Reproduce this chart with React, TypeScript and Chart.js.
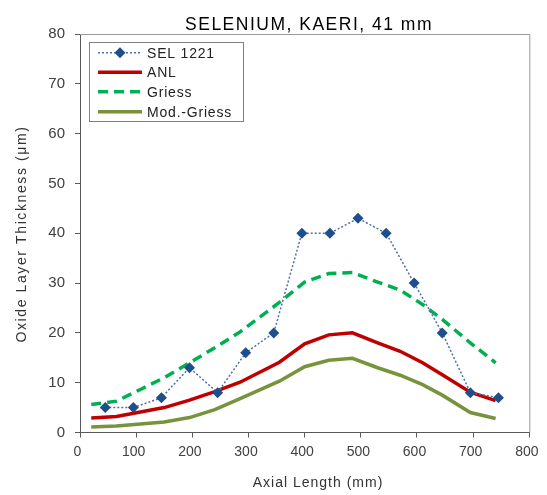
import { useEffect, useRef } from 'react';
import { Chart, registerables } from 'chart.js';

Chart.register(...registerables);

const TITLE = 'SELENIUM, KAERI, 41 mm';
const X_TITLE = 'Axial Length (mm)';
const Y_TITLE = 'Oxide Layer Thickness (\u03bcm)';

const SEL_X = [45, 95, 145, 195, 245, 295, 345, 395, 445, 495, 545, 595, 645, 695, 745];
const SEL_Y = [5, 5, 7, 13, 8, 16, 20, 40, 40, 43, 40, 30, 20, 8, 7];

const CALC_X = [20, 65, 150, 195, 240, 285, 355, 400, 443, 485, 530, 570, 610, 645, 695, 740];
const ANL_Y = [2.9, 3.2, 5.0, 6.5, 8.2, 10.1, 14.1, 17.8, 19.6, 20.0, 18.0, 16.3, 14.0, 11.6, 8.1, 6.4];
const GRIESS_Y = [5.6, 6.3, 11.0, 14.0, 17.0, 20.2, 26.1, 30.2, 31.9, 32.1, 30.2, 28.6, 25.7, 22.7, 18.0, 14.0];
const MOD_GRIESS_Y = [1.1, 1.3, 2.1, 3.0, 4.6, 6.8, 10.3, 13.2, 14.5, 14.9, 13.0, 11.5, 9.6, 7.5, 4.0, 2.8];

const LABELS = ['SEL 1221', 'ANL', 'Griess', 'Mod.-Griess'];

const FONT = '"Liberation Sans", "DejaVu Sans", sans-serif';

const toPts = (xs: number[], ys: number[]) => xs.map((x, i) => ({ x, y: ys[i] }));

const framePlugin = {
  id: 'frameAndLegend',
  afterDraw(chart: any) {
    const { ctx, chartArea } = chart;
    const { left, right, top, bottom } = chartArea;
    ctx.save();
    // plot frame (top and right)
    ctx.strokeStyle = '#9a9a9a';
    ctx.lineWidth = 1;
    ctx.beginPath();
    ctx.moveTo(left, top + 0.5);
    ctx.lineTo(right + 0.5, top + 0.5);
    ctx.lineTo(right + 0.5, bottom);
    ctx.stroke();

    // chart title
    ctx.fillStyle = '#000';
    ctx.font = `17.5px ${FONT}`;
    (ctx as any).letterSpacing = '1.5px';
    ctx.textAlign = 'center';
    ctx.textBaseline = 'alphabetic';
    ctx.fillText(TITLE, 309, 30);

    // axis titles
    ctx.fillStyle = '#333';
    ctx.font = `14px ${FONT}`;
    (ctx as any).letterSpacing = '1px';
    ctx.textBaseline = 'middle';
    ctx.fillText(X_TITLE, 318, 483);
    ctx.save();
    ctx.translate(22, 234);
    ctx.rotate(-Math.PI / 2);
    (ctx as any).letterSpacing = '1.6px';
    ctx.fillText(Y_TITLE, 0, 0);
    ctx.restore();

    // legend
    const bx = 89, by = 42.5, bw = 154, bh = 79;
    ctx.fillStyle = '#fff';
    ctx.fillRect(bx, by, bw, bh);
    ctx.strokeStyle = '#808080';
    ctx.lineWidth = 1;
    ctx.strokeRect(bx + 0.5, by, bw, bh);
    const ds = chart.data.datasets;
    const rowY = [52.7, 72.3, 91.7, 111.7];
    const x0 = 98, x1 = 142;
    ds.forEach((d: any, i: number) => {
      const y = rowY[i];
      ctx.strokeStyle = d.borderColor;
      ctx.lineWidth = d.borderWidth;
      ctx.setLineDash(d.borderDash || []);
      ctx.beginPath();
      ctx.moveTo(x0, y);
      ctx.lineTo(x1, y);
      ctx.stroke();
      ctx.setLineDash([]);
      if (d.pointRadius > 0) {
        const cx = (x0 + x1) / 2;
        const r = d.pointRadius;
        ctx.fillStyle = d.pointBackgroundColor;
        ctx.beginPath();
        ctx.moveTo(cx, y - r);
        ctx.lineTo(cx + r, y);
        ctx.lineTo(cx, y + r);
        ctx.lineTo(cx - r, y);
        ctx.closePath();
        ctx.fill();
      }
      ctx.fillStyle = '#222';
      ctx.font = `14px ${FONT}`;
      (ctx as any).letterSpacing = '0.8px';
      ctx.textAlign = 'left';
      ctx.textBaseline = 'middle';
      ctx.fillText(d.label, 147, y + 1);
    });
    ctx.restore();
  },
};

export default function App() {
  const ref = useRef<HTMLCanvasElement>(null);
  useEffect(() => {
    document.body.style.margin = '0';
    const canvas = ref.current!;
    const chart = new Chart(canvas, {
      type: 'line',
      data: {
        datasets: [
          {
            label: LABELS[0],
            data: toPts(SEL_X, SEL_Y),
            borderColor: '#4F6FA8',
            borderWidth: 1.5,
            borderDash: [2, 2],
            pointStyle: 'rectRot',
            pointRadius: 5.5,
            pointBackgroundColor: '#1F4E8C',
            pointBorderColor: '#1F4E8C',
            pointBorderWidth: 0,
            tension: 0,
            order: 0,
          },
          {
            label: LABELS[1],
            data: toPts(CALC_X, ANL_Y),
            borderColor: '#C00000',
            borderWidth: 3.5,
            pointRadius: 0,
            tension: 0,
            order: 3,
          },
          {
            label: LABELS[2],
            data: toPts(CALC_X, GRIESS_Y),
            borderColor: '#00B050',
            borderWidth: 3.5,
            borderDash: [10, 6],
            pointRadius: 0,
            tension: 0,
            order: 1,
          },
          {
            label: LABELS[3],
            data: toPts(CALC_X, MOD_GRIESS_Y),
            borderColor: '#77933C',
            borderWidth: 3.5,
            pointRadius: 0,
            tension: 0,
            order: 2,
          },
        ],
      },
      options: {
        responsive: false,
        animation: false,
        layout: { padding: { top: 34, right: 16, left: 0, bottom: 0 } },
        plugins: {
          legend: { display: false },
          tooltip: { enabled: false },
          title: { display: false },
        },
        scales: {
          x: {
            type: 'linear',
            min: 0,
            max: 800,
            afterFit: (s: any) => {
              s.height = 62.5;
            },
            ticks: {
              stepSize: 100,
              color: '#404040',
              font: { size: 14, family: FONT },
              padding: 6,
              labelOffset: -2.5,
              maxRotation: 0,
            },
            grid: {
              drawOnChartArea: false,
              drawTicks: true,
              tickLength: 5,
              color: '#595959',
            },
            border: { display: true, color: '#595959', width: 1 },
            title: { display: false, text: X_TITLE },
          },
          y: {
            type: 'linear',
            min: 0,
            max: 80,
            afterFit: (s: any) => {
              s.width = 80;
            },
            ticks: {
              stepSize: 10,
              color: '#404040',
              font: { size: 15, family: FONT },
              padding: 10,
            },
            grid: {
              drawOnChartArea: false,
              drawTicks: true,
              tickLength: 5,
              color: '#595959',
            },
            border: { display: true, color: '#595959', width: 1 },
            title: { display: false, text: Y_TITLE },
          },
        },
      },
      plugins: [framePlugin],
    });
    return () => chart.destroy();
  }, []);
  return (
    <div style={{ width: 547, height: 495, position: 'relative' }}>
      <canvas ref={ref} width={547} height={495} />
    </div>
  );
}
